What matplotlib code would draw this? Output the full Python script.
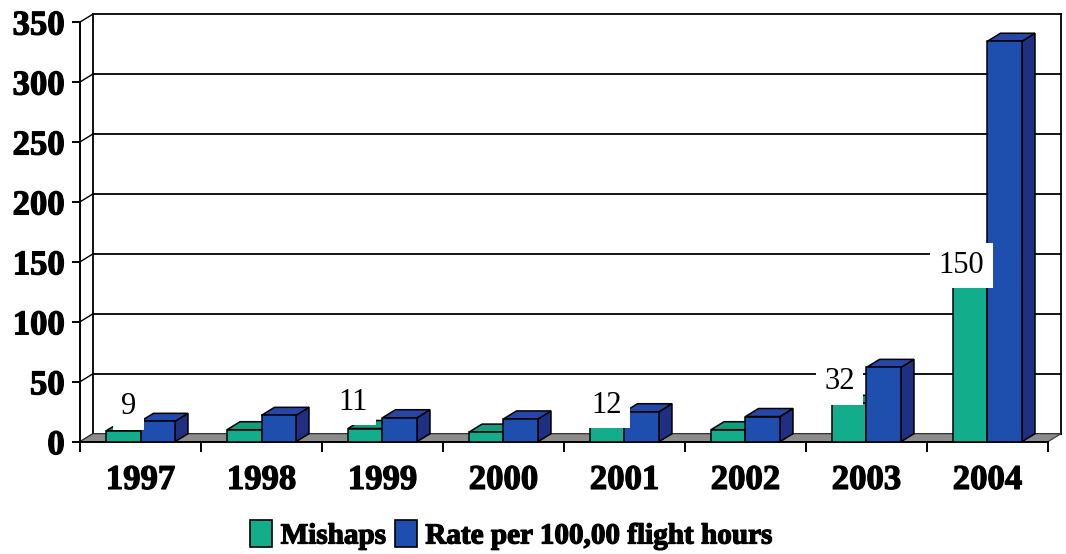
import numpy as np
import matplotlib
matplotlib.use('Agg')
import matplotlib.pyplot as plt
import matplotlib.patheffects as pe
from matplotlib.patches import Polygon, Patch

# ---- data ----
years = ['1997', '1998', '1999', '2000', '2001', '2002', '2003', '2004']
mishaps = [9, 10, 11, 8, 12, 10, 32, 150]
rate = [17, 22, 20, 19, 25, 21, 62, 334]
yticks = [0, 50, 100, 150, 200, 250, 300, 350]

# value labels pasted over the green bars
label_idx = [0, 2, 4, 6, 7]
label_txt = ['9', '11', '12', '32', '150']
label_dx = [-0.10, -0.24, -0.15, -0.22, -0.215]
label_y = [29, 33, 30, 50, 147]

GREEN = ('#12ad8b', '#139c7e', '#0b7a62')   # front, top, side
BLUE = ('#1f4fae', '#2548a8', '#1f2f82')

plt.rcParams['font.family'] = ['Liberation Serif', 'DejaVu Serif']
plt.rcParams['font.weight'] = 'bold'

W, H = 1066, 554
fig = plt.figure(figsize=(W / 100, H / 100), dpi=100)
x0, y0 = 80, 441.7       # pixel position of the origin
ppc = 121                # px per category
ppu = 1.199              # px per value unit
ax = fig.add_axes([x0 / W, (H - y0) / H, (W - x0) / W, y0 / H])
ax.set_xlim(0, (W - x0) / ppc)
ax.set_ylim(0, y0 / ppu)
ax.patch.set_alpha(0)

n = len(years)
ddx = 13 / ppc   # depth offset (x)
ddy = 8 / ppu    # depth offset (y)
bw = 0.285

# back wall + side wall gridlines
for v in yticks:
    ax.plot([ddx, n + ddx], [v + ddy, v + ddy], color='black', lw=1.3, zorder=1)
    ax.plot([0, ddx], [v, v + ddy], color='black', lw=1.0, zorder=1)
for xe in (ddx, n + ddx):
    ax.plot([xe, xe], [ddy, yticks[-1] + ddy], color='black', lw=1.3, zorder=1)

# floor
ax.add_patch(Polygon([(0, 0), (n, 0), (n + ddx, ddy), (ddx, ddy)], closed=True,
                     facecolor='#8c8c8c', edgecolor='#333333', lw=0.8, zorder=2))


def box3d(x, h, cols):
    front = [(x, 0), (x + bw, 0), (x + bw, h), (x, h)]
    top = [(x, h), (x + bw, h), (x + bw + ddx, h + ddy), (x + ddx, h + ddy)]
    side = [(x + bw, 0), (x + bw + ddx, ddy), (x + bw + ddx, h + ddy), (x + bw, h)]
    for pts, c in ((side, cols[2]), (top, cols[1]), (front, cols[0])):
        ax.add_patch(Polygon(pts, closed=True, facecolor=c, edgecolor='black',
                             lw=1.1, zorder=3))


for i in range(n):
    c = i + 0.5
    box3d(c - bw, mishaps[i], GREEN)
    box3d(c, rate[i], BLUE)

for k, i in enumerate(label_idx):
    ax.text(i + 0.5 + label_dx[k], label_y[k], label_txt[k], ha='center', va='center',
            fontsize=22, fontweight='normal', zorder=6,
            bbox=dict(facecolor='white', edgecolor='none', pad=6))

# axes
for s in ('top', 'right'):
    ax.spines[s].set_visible(False)
ax.spines['left'].set_bounds(0, yticks[-1])
ax.spines['bottom'].set_bounds(0, n)
ax.spines['left'].set_linewidth(1.4)
ax.spines['bottom'].set_linewidth(1.4)
ax.set_yticks(yticks)
ax.tick_params(axis='y', length=6, width=1.4, pad=5, labelsize=25)
ax.set_xticks(np.arange(n + 1))
ax.set_xticklabels([])
ax.tick_params(axis='x', which='major', length=7, width=1.4)
ax.set_xticks(np.arange(n) + 0.5, minor=True)
ax.set_xticklabels(years, minor=True)
ax.tick_params(axis='x', which='minor', length=0, pad=16, labelsize=25)

heavy = [pe.withStroke(linewidth=0.9, foreground='black')]
for lbl in ax.get_yticklabels() + ax.get_xticklabels(minor=True):
    lbl.set_path_effects(heavy)

handles = [Patch(facecolor=GREEN[0], edgecolor='black', lw=1.2),
           Patch(facecolor=BLUE[0], edgecolor='black', lw=1.2)]
leg = fig.legend(handles, ['Mishaps', 'Rate per 100,00 flight hours'], loc='center',
                 bbox_to_anchor=(511 / W, 1 - 535 / H), ncol=2, frameon=False, fontsize=21,
                 handlelength=0.75, handleheight=1.0, handletextpad=0.3, columnspacing=0.3)
for t in leg.get_texts():
    t.set_path_effects(heavy)

fig.savefig('out.png', dpi=100)
